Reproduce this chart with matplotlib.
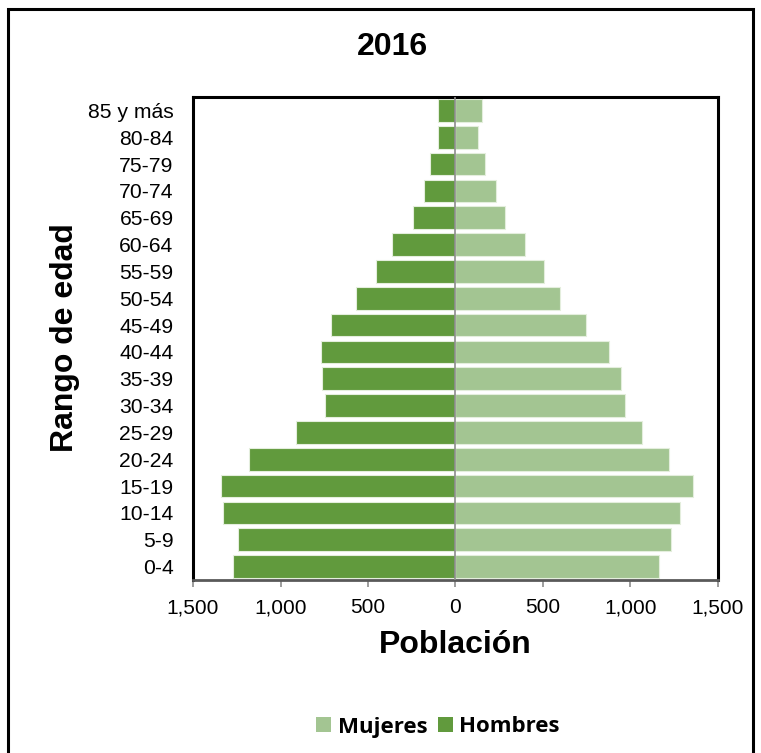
import matplotlib
matplotlib.use('Agg')
import matplotlib.pyplot as plt
from matplotlib.patches import Rectangle
from matplotlib.ticker import FuncFormatter
import numpy as np

# age groups, bottom to top
grupos = ['0-4', '5-9', '10-14', '15-19', '20-24', '25-29', '30-34', '35-39',
          '40-44', '45-49', '50-54', '55-59', '60-64', '65-69', '70-74',
          '75-79', '80-84', '85 y más']
hombres = [1270, 1241, 1327, 1341, 1182, 912, 748, 763, 769, 710, 567, 456,
           363, 243, 180, 143, 100, 100]
mujeres = [1161, 1234, 1281, 1360, 1220, 1068, 967, 948, 875, 745, 599, 507,
           397, 284, 231, 166, 128, 149]
xticks = [-1500, -1000, -500, 0, 500, 1000, 1500]

C_HOM = '#619A3D'
C_MUJ = '#A3C592'
W, H = 761, 753

plt.rcParams['font.family'] = ['Liberation Sans', 'DejaVu Sans']

fig = plt.figure(figsize=(W / 100, H / 100), dpi=100)

# outer chart border
fig.patches.append(Rectangle((8 / W, -0.05), 745 / W, (H - 9) / H + 0.05,
                             transform=fig.transFigure, fill=False,
                             edgecolor='black', linewidth=2.2))

ax = fig.add_axes([193 / W, (H - 580) / H, 525 / W, 483 / H])
y = np.arange(len(grupos))
ax.barh(y, mujeres, height=0.84, color=C_MUJ, edgecolor='#e4eedd',
        linewidth=0.8, label='Mujeres', zorder=2)
ax.barh(y, [-v for v in hombres], height=0.84, color=C_HOM, edgecolor='#e4eedd',
        linewidth=0.8, label='Hombres', zorder=2)
ax.axvline(0, color='#8c8c8c', linewidth=1.2, zorder=3)

ax.set_xlim(-1500, 1500)
ax.set_ylim(-0.5, len(grupos) - 0.5)
ax.set_xticks(xticks)
ax.xaxis.set_major_formatter(FuncFormatter(lambda v, p: '{:,.0f}'.format(abs(v))))
ax.set_yticks(y)
ax.set_yticklabels(grupos)
ax.tick_params(axis='y', length=0, pad=14, labelsize=15.2)
ax.tick_params(axis='x', length=5, width=1.2, color='#8c8c8c', labelsize=15,
               pad=8)

for s in ['left', 'top', 'right']:
    ax.spines[s].set_linewidth(2.2)
    ax.spines[s].set_color('black')
ax.spines['bottom'].set_linewidth(2)
ax.spines['bottom'].set_color('#595959')

fig.text(455 / W, 1 - 645 / H, 'Población', ha='center', va='center',
         fontsize=23, fontweight='bold')
fig.text(65 / W, 1 - 338 / H, 'Rango de edad', ha='center', va='center',
         rotation=90, fontsize=23, fontweight='bold')
fig.text(392 / W, 1 - 47 / H, '2016', ha='center', va='center',
         fontsize=23, fontweight='bold')

handles, labels = ax.get_legend_handles_labels()
leg = fig.legend(handles, labels, loc='center', bbox_to_anchor=(438 / W, 1 - 727 / H),
                 ncol=2, frameon=False, handlelength=0.68, handleheight=0.68,
                 handletextpad=0.3, columnspacing=0.45,
                 prop={'family': 'Open Sans', 'weight': 'bold', 'size': 16})
for h in leg.legend_handles:
    h.set_edgecolor('none')

fig.savefig('out.png', dpi=100)
